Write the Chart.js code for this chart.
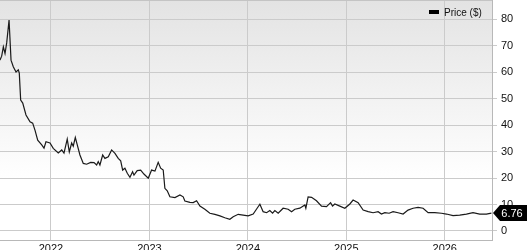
<!DOCTYPE html>
<html lang="en">
<head>
<meta charset="UTF-8">
<title>Price</title>
<script src="https://cdn.jsdelivr.net/npm/chart.js"></script>
<style>
  body { margin: 0; background: #fff; }
  .wrap { width: 527px; height: 250px; position: relative; }
</style>
</head>
<body>
<div class="wrap"><canvas id="grafico"></canvas></div>
<script>
// dates as decimal years, price in $
const years = [
  2021.482, 2021.499, 2021.516, 2021.533, 2021.550, 2021.574, 2021.594, 2021.617, 2021.645, 2021.668,
  2021.678, 2021.692, 2021.713, 2021.746, 2021.787, 2021.814, 2021.838, 2021.865, 2021.906, 2021.929,
  2021.949, 2021.990, 2022.023, 2022.074, 2022.109, 2022.132, 2022.165, 2022.186, 2022.210, 2022.226,
  2022.247, 2022.267, 2022.294, 2022.328, 2022.362, 2022.403, 2022.437, 2022.464, 2022.480, 2022.497,
  2022.525, 2022.548, 2022.582, 2022.616, 2022.650, 2022.683, 2022.708, 2022.728, 2022.751, 2022.775,
  2022.802, 2022.829, 2022.843, 2022.876, 2022.911, 2022.944, 2022.988, 2023.022, 2023.056, 2023.089,
  2023.114, 2023.140, 2023.157, 2023.181, 2023.208, 2023.259, 2023.310, 2023.343, 2023.360, 2023.411,
  2023.445, 2023.479, 2023.513, 2023.563, 2023.614, 2023.665, 2023.716, 2023.766, 2023.817, 2023.851,
  2023.902, 2023.952, 2024.003, 2024.054, 2024.094, 2024.122, 2024.155, 2024.190, 2024.223, 2024.251,
  2024.274, 2024.308, 2024.358, 2024.409, 2024.444, 2024.477, 2024.528, 2024.579, 2024.589, 2024.612,
  2024.647, 2024.697, 2024.748, 2024.799, 2024.840, 2024.860, 2024.883, 2024.934, 2024.985, 2025.036,
  2025.069, 2025.120, 2025.171, 2025.222, 2025.272, 2025.323, 2025.357, 2025.391, 2025.435, 2025.475,
  2025.526, 2025.577, 2025.627, 2025.678, 2025.729, 2025.780, 2025.831, 2025.898, 2025.967, 2026.017,
  2026.084, 2026.152, 2026.220, 2026.287, 2026.355, 2026.423, 2026.474
];
const prices = [
  64.5, 66, 69.5, 67, 71, 79.6, 64.5, 62, 60, 60.8,
  59.6, 49.4, 48.3, 43.8, 41.2, 40.7, 38, 34.3, 32.5, 31.3,
  33.7, 33.2, 31.2, 29.5, 30.6, 29.4, 34.7, 29.9, 33.2, 32,
  35.3, 32.5, 28.7, 25.5, 25.2, 25.9, 25.8, 24.9, 26.2, 24.9,
  28.7, 27.4, 28, 30.6, 29.3, 27.4, 26.5, 23, 23.7, 21.8,
  20.3, 22.4, 21.1, 22.8, 23, 21.5, 19.9, 23, 22.6, 25.9,
  23.7, 23, 16.1, 15.2, 12.9, 12.6, 13.6, 12.9, 11.3, 10.8,
  10.7, 11.4, 9.4, 8.2, 6.7, 6.3, 5.7, 5.0, 4.4, 5.4,
  6.3, 6.0, 5.7, 6.4, 8.6, 10.1, 7.3, 6.9, 7.7, 6.7,
  7.7, 6.7, 8.6, 8.2, 7.3, 8.2, 8.6, 9.8, 8.6, 12.9,
  12.7, 11.4, 9.4, 9.2, 10.7, 9.4, 10.2, 9.4, 8.6, 10.2,
  11.7, 10.7, 7.9, 7.3, 6.9, 7.3, 6.4, 6.9, 6.7, 7.3,
  6.9, 6.4, 7.9, 8.6, 8.9, 8.6, 6.9, 6.9, 6.7, 6.4,
  5.8, 6.0, 6.4, 6.9, 6.4, 6.4, 6.76
];
const xTicks = [2022, 2023, 2024, 2025, 2026];
const yTicks = [0, 10, 20, 30, 40, 50, 60, 70, 80];
const seriesName = 'Price ($)';

const fonte = 'Liberation Sans, Arial, sans-serif';
Chart.defaults.font.family = fonte;

const enfeites = {
  id: 'enfeites',
  beforeDraw(chart) {
    const { ctx, chartArea: a } = chart;
    const g = ctx.createLinearGradient(0, a.top, 0, a.bottom);
    g.addColorStop(0, '#e3e3e3');
    g.addColorStop(0.75, '#ffffff');
    ctx.save();
    ctx.fillStyle = g;
    ctx.fillRect(a.left, a.top, a.right - a.left, a.bottom - a.top);
    ctx.restore();
  },
  afterDraw(chart) {
    const { ctx, chartArea: a } = chart;
    ctx.save();
    // borda de cima
    ctx.strokeStyle = '#c4c4c4';
    ctx.lineWidth = 1;
    ctx.beginPath();
    ctx.moveTo(a.left, a.top + 0.5);
    ctx.lineTo(a.right, a.top + 0.5);
    ctx.stroke();

    // legenda
    ctx.fillStyle = '#000';
    ctx.fillRect(429, 10, 10, 4);
    ctx.font = '10px ' + fonte;
    ctx.textBaseline = 'middle';
    ctx.textAlign = 'left';
    ctx.fillStyle = '#111';
    ctx.fillText(chart.data.datasets[0].label, 444, 13);

    // etiqueta do ultimo preco
    const ultimo = prices[prices.length - 1];
    const yc = chart.scales.y.getPixelForValue(ultimo);
    const x0 = a.right + 1;
    ctx.fillStyle = '#000';
    ctx.beginPath();
    ctx.moveTo(x0, yc);
    ctx.lineTo(x0 + 7, yc - 8);
    ctx.lineTo(chart.width, yc - 8);
    ctx.lineTo(chart.width, yc + 8);
    ctx.lineTo(x0 + 7, yc + 8);
    ctx.closePath();
    ctx.fill();
    ctx.fillStyle = '#fff';
    ctx.font = '11px ' + fonte;
    ctx.textAlign = 'center';
    ctx.fillText(ultimo.toFixed(2), 512, yc + 0.5);
    ctx.restore();
  }
};

const ctx = document.getElementById('grafico');
const grafico = new Chart(ctx, {
  type: 'line',
  data: {
    datasets: [{
      label: seriesName,
      data: years.map((t, i) => ({ x: t, y: prices[i] })),
      borderColor: '#1a1a1a',
      borderWidth: 1.2,
      pointRadius: 0,
      tension: 0,
      fill: false
    }]
  },
  options: {
    responsive: true,
    maintainAspectRatio: false,
    animation: false,
    layout: { padding: 0 },
    plugins: {
      legend: { display: false },
      tooltip: { enabled: false }
    },
    scales: {
      x: {
        type: 'linear',
        min: 2021.482,
        max: 2026.48,
        afterBuildTicks: s => { s.ticks = xTicks.map(v => ({ value: v })); },
        afterFit: s => { s.height = 10; s.paddingLeft = 0; s.paddingRight = 0; },
        grid: { color: '#cbcbcb', drawTicks: false },
        border: { color: '#b8b8b8' },
        ticks: {
          padding: 2,
          color: '#111',
          maxRotation: 0,
          font: { size: 11 },
          callback: v => String(v)
        }
      },
      y: {
        position: 'right',
        min: -3.4,
        max: 87.2,
        afterBuildTicks: s => { s.ticks = yTicks.map(v => ({ value: v })); },
        afterFit: s => { s.width = 35; s.paddingTop = 0; s.paddingBottom = 0; },
        grid: { color: '#cbcbcb', tickLength: 5 },
        border: { color: '#b8b8b8' },
        ticks: {
          padding: 4,
          color: '#111',
          font: { size: 11 },
          callback: v => String(v)
        }
      }
    }
  },
  plugins: [enfeites]
});
</script>
</body>
</html>
